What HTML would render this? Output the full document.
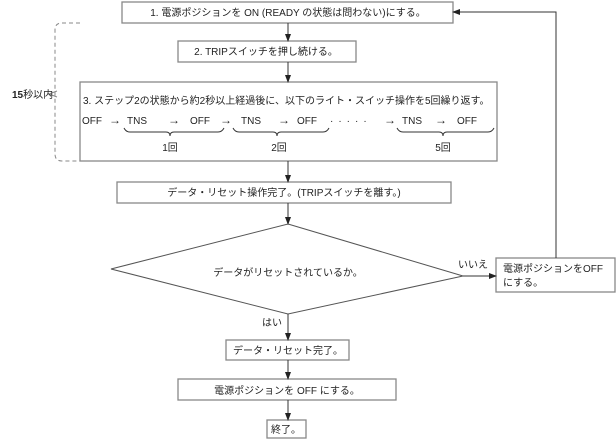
<!DOCTYPE html>
<html><head><meta charset="utf-8"><style>
body{margin:0;background:#fff}
svg text{font-family:"Liberation Sans","Noto Sans CJK JP",sans-serif;font-size:10px;fill:#222}
</style></head><body>
<svg width="616" height="440" viewBox="0 0 616 440" xmlns="http://www.w3.org/2000/svg">
<defs><marker id="a" markerWidth="8" markerHeight="8" refX="7" refY="4" orient="auto" markerUnits="userSpaceOnUse"><path d="M0,1 L8,4 L0,7 z" fill="#222"/></marker></defs>
<g fill="#fff" stroke="#888" stroke-width="1.3">
<rect x="122" y="2" width="331" height="21"/>
<rect x="178" y="41" width="178" height="21"/>
<rect x="80" y="82" width="417" height="79"/>
<rect x="117" y="182" width="334" height="21"/>
<rect x="496" y="258" width="119" height="34"/>
<rect x="226" y="340" width="123" height="20"/>
<rect x="178" y="379" width="218" height="21"/>
<rect x="267" y="420" width="39" height="18"/>
</g>
<polygon points="288,224 463,276 288,314 111,269" fill="none" stroke="#555" stroke-width="1"/>
<g stroke="#333" stroke-width="1" fill="none">
<line x1="288" y1="23" x2="288" y2="41" marker-end="url(#a)"/>
<line x1="288" y1="62" x2="288" y2="82" marker-end="url(#a)"/>
<line x1="288" y1="161" x2="288" y2="182" marker-end="url(#a)"/>
<line x1="288" y1="203" x2="288" y2="224" marker-end="url(#a)"/>
<line x1="288" y1="314" x2="288" y2="340" marker-end="url(#a)"/>
<line x1="288" y1="360" x2="288" y2="379" marker-end="url(#a)"/>
<line x1="288" y1="400" x2="288" y2="420" marker-end="url(#a)"/>
<line x1="463" y1="276" x2="496" y2="276" marker-end="url(#a)"/>
<polyline points="556,258 556,12 453,12" marker-end="url(#a)"/>
<path d="M80,23 H62 Q55,23 55,30 V154 Q55,161 62,161 H80" stroke="#888" stroke-dasharray="4,3"/>
<path d="M57,91 L49,94 L57,97" stroke="#888"/>
<path d="M124,128 q2,4 6,4 H166 q4,0 4,4 q0,-4 4,-4 H218 q4,0 6,-4"/>
<path d="M233,128 q2,4 6,4 H273 q4,0 4,4 q0,-4 4,-4 H323 q4,0 6,-4"/>
<path d="M397,128 q2,4 6,4 H439 q4,0 4,4 q0,-4 4,-4 H488 q4,0 6,-4"/>
</g>
<g text-anchor="middle">
<text x="288" y="16">1. 電源ポジションを ON (READY の状態は問わない)にする。</text>
<text x="266" y="55">2. TRIPスイッチを押し続ける。</text>
<text x="284" y="196">データ・リセット操作完了。(TRIPスイッチを離す。)</text>
<text x="288" y="276">データがリセットされているか。</text>
<text x="288" y="354">データ・リセット完了。</text>
<text x="287" y="394">電源ポジションを OFF にする。</text>
<text x="286" y="433">終了。</text>
<text x="170" y="151">1回</text>
<text x="279" y="151">2回</text>
<text x="443" y="151">5回</text>
</g>
<text x="83" y="104">3. ステップ2の状態から約2秒以上経過後に、以下のライト・スイッチ操作を5回繰り返す。</text>
<g font-size="10">
<text x="82" y="124">OFF</text><text x="109" y="124" style="font-size:12px">→</text><text x="127" y="124">TNS</text><text x="168" y="124" style="font-size:12px">→</text><text x="190" y="124">OFF</text><text x="220" y="124" style="font-size:12px">→</text>
<text x="241" y="124">TNS</text><text x="278" y="124" style="font-size:12px">→</text><text x="297" y="124">OFF</text><text x="330" y="124" letter-spacing="5">·····</text><text x="384" y="124" style="font-size:12px">→</text>
<text x="402" y="124">TNS</text><text x="435" y="124" style="font-size:12px">→</text><text x="457" y="124">OFF</text>
</g>
<text x="12" y="98"><tspan font-weight="bold">15</tspan>秒以内</text>
<text x="458" y="268">いいえ</text>
<text x="262" y="326">はい</text>
<text x="503" y="272">電源ポジションをOFF</text>
<text x="503" y="286">にする。</text>
</svg>
</body></html>
